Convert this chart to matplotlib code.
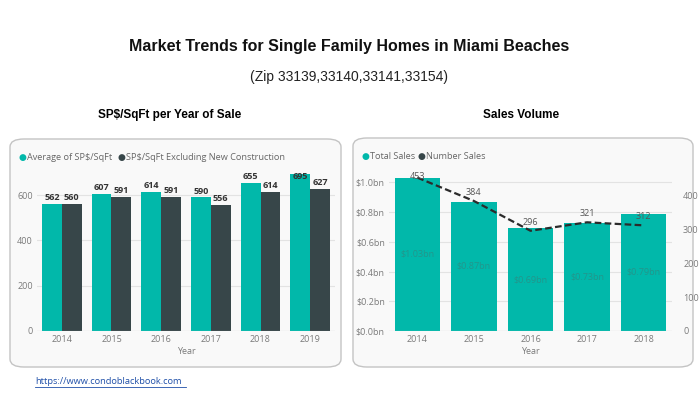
import matplotlib.pyplot as plt
from matplotlib.patches import FancyBboxPatch

# data
years_left = ["2014", "2015", "2016", "2017", "2018", "2019"]
avg_sqft = [562, 607, 614, 590, 655, 695]
excl_new = [560, 591, 591, 556, 614, 627]

years_right = ["2014", "2015", "2016", "2017", "2018"]
total_sales = [1.03, 0.87, 0.69, 0.73, 0.79]  # $bn
number_sales = [453, 384, 296, 321, 312]

TEAL = "#01B8AA"
DARK = "#374649"
GRID = "#e3e3e3"
TICK = "#7a7a7a"

W, H = 699, 393
fig = plt.figure(figsize=(W / 100, H / 100), dpi=100)
plt.rcParams['font.family'] = ['Open Sans', 'DejaVu Sans']


def px_axes(x0, y0, x1, y1):
    # pixel box (top-left origin) -> figure axes
    ax = fig.add_axes([x0 / W, 1 - y1 / H, (x1 - x0) / W, (y1 - y0) / H])
    ax.set_zorder(2)
    return ax


def panel(x0, y0, x1, y1):
    p = FancyBboxPatch((x0 / W, 1 - y1 / H), (x1 - x0) / W, (y1 - y0) / H,
                       boxstyle="round,pad=0,rounding_size=0.02",
                       transform=fig.transFigure, facecolor="#f9f9f9",
                       edgecolor="#c4c4c4", linewidth=1.0, zorder=-5)
    fig.patches.append(p)


def style(ax):
    for s in ax.spines.values():
        s.set_visible(False)
    ax.tick_params(length=0, labelsize=6.5, labelcolor=TICK, pad=3)
    ax.set_facecolor("none")


# titles
fig.text(0.5, 1 - 47 / H, "Market Trends for Single Family Homes in Miami Beaches",
         ha="center", va="center", fontsize=11.5, fontweight="bold",
         family="Liberation Sans", color="#111111")
fig.text(0.5, 1 - 77 / H, "(Zip 33139,33140,33141,33154)", ha="center", va="center",
         fontsize=10, family="Liberation Sans", color="#222222")
fig.text(170 / W, 1 - 115 / H, "SP$/SqFt per Year of Sale", ha="center", va="center",
         fontsize=8.5, fontweight="bold", family="Liberation Sans")
fig.text(521 / W, 1 - 115 / H, "Sales Volume", ha="center", va="center",
         fontsize=8.5, fontweight="bold", family="Liberation Sans")

panel(10, 139, 341, 367)
panel(353, 138, 693, 367)

# ---- left chart
ax1 = px_axes(37, 168, 335, 331)
style(ax1)
xs = range(len(years_left))
bw = 0.4
ax1.bar([x - bw / 2 for x in xs], avg_sqft, bw, color=TEAL, zorder=2)
ax1.bar([x + bw / 2 for x in xs], excl_new, bw, color=DARK, zorder=2)
ax1.set_ylim(0, 720)
ax1.set_xlim(-0.5, len(years_left) - 0.5)
ax1.set_yticks([0, 200, 400, 600])
ax1.set_xticks(list(xs))
ax1.set_xticklabels(years_left)
ax1.yaxis.grid(True, color=GRID, linewidth=0.8, zorder=0)
ax1.axhline(0, color="#cfcfcf", linewidth=0.8, zorder=3)
ax1.set_xlabel("Year", fontsize=6.5, color=TICK, labelpad=2)
for x, a, b in zip(xs, avg_sqft, excl_new):
    ax1.text(x - bw / 2, min(a, 655) + 8, str(a), ha="center", va="bottom",
             fontsize=6.5, fontweight="bold", color="#333333", zorder=4)
    ax1.text(x + bw / 2, min(b, 655) + 8, str(b), ha="center", va="bottom",
             fontsize=6.5, fontweight="bold", color="#333333", zorder=4)

fig.text(22 / W, 1 - 158 / H, "●", color=TEAL, fontsize=6.5, ha="center", va="center")
fig.text(27 / W, 1 - 158 / H, "Average of SP$/SqFt", color="#666666", fontsize=6.6, va="center")
fig.text(121 / W, 1 - 158 / H, "●", color=DARK, fontsize=6.5, ha="center", va="center")
fig.text(126 / W, 1 - 158 / H, "SP$/SqFt Excluding New Construction", color="#666666",
         fontsize=6.6, va="center")

# ---- right chart
ax2 = px_axes(389, 175, 672, 331)
style(ax2)
xr = range(len(years_right))
ax2.bar(list(xr), total_sales, 0.8, color=TEAL, zorder=2)
ax2.set_ylim(0, 1.05)
ax2.set_xlim(-0.5, len(years_right) - 0.5)
ax2.set_yticks([0, 0.2, 0.4, 0.6, 0.8, 1.0])
ax2.set_yticklabels(["$%.1fbn" % v for v in [0, 0.2, 0.4, 0.6, 0.8, 1.0]])
ax2.set_xticks(list(xr))
ax2.set_xticklabels(years_right)
ax2.yaxis.grid(True, color=GRID, linewidth=0.8, zorder=0)
ax2.axhline(0, color="#cfcfcf", linewidth=0.8, zorder=3)
ax2.set_xlabel("Year", fontsize=6.5, color=TICK, labelpad=2)
for x, v in zip(xr, total_sales):
    ax2.text(x, v / 2, "$%.2fbn" % v, ha="center", va="center", fontsize=6.5,
             color="#23958b", zorder=4)

ax3 = ax2.twinx()
ax3.set_zorder(3)
style(ax3)
ax3.plot(list(xr), number_sales, color="#2b2b2b", linestyle=(0, (3, 1.5)),
         linewidth=1.6, zorder=5)
ax3.set_ylim(0, 1.05 * 148.3 / 33.8 * 100)
ax3.set_yticks([0, 100, 200, 300, 400])
ax3.tick_params(pad=8)
for x, n in zip(xr, number_sales):
    ax3.text(x, min(n, 430) + 12, str(n), ha="center", va="bottom", fontsize=6.5,
             color="#555555", zorder=6)

fig.text(365 / W, 1 - 157 / H, "●", color=TEAL, fontsize=6.5, ha="center", va="center")
fig.text(370 / W, 1 - 157 / H, "Total Sales", color="#666666", fontsize=6.6, va="center")
fig.text(421 / W, 1 - 157 / H, "●", color=DARK, fontsize=6.5, ha="center", va="center")
fig.text(426 / W, 1 - 157 / H, "Number Sales", color="#666666", fontsize=6.6, va="center")

# link
fig.text(35 / W, 1 - 382 / H, "https://www.condoblackbook.com", color="#1f4fa8",
         fontsize=6.7, va="center")
fig.add_artist(plt.Line2D([35 / W, 186 / W], [1 - 387 / H, 1 - 387 / H],
                          color="#1f4fa8", linewidth=0.6))

fig.savefig("out.png", dpi=100, facecolor="white")
